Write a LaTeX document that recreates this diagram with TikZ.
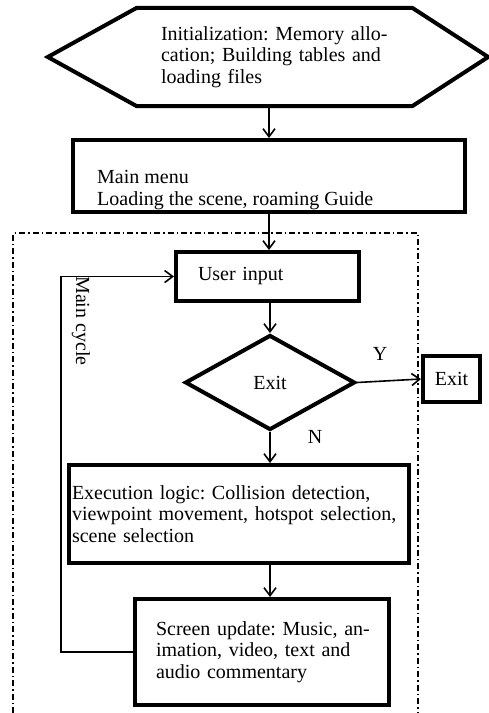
\documentclass[tikz,border=0pt]{standalone}
\usepackage{fontspec}
\setmainfont{Liberation Serif}
\usepackage{tikz}
\usetikzlibrary{shapes.geometric, arrows.meta, positioning, calc}
\frenchspacing

\begin{document}
\begin{tikzpicture}[
    x=1pt, y=-1pt,
    font=\fontsize{20}{21.5}\selectfont,
    box/.style={rectangle, draw, line width=4pt, align=left},
    decision/.style={diamond, draw, line width=4pt, inner sep=0pt},
    arr/.style={-{Straight Barb[length=8pt, width=12pt]}, line width=1.6pt},
    frame/.style={line width=1.5pt, dash pattern=on 6pt off 3pt on 1.5pt off 3pt}
]
    \useasboundingbox (0,0) rectangle (489,713);

    % hexagon: start
    \node[rectangle, minimum width=275, minimum height=98, text width=235, inner xsep=20, align=left] (init) at (274.5,57)
        {\hspace*{4pt}Initialization: Memory allo-\\\hspace*{4pt}cation; Building tables and\\\hspace*{4pt}loading files};
    \draw[line width=4pt, line join=miter]
        (init.north west) -- (init.north east) -- ($(init.east)+(76,0)$)
        -- (init.south east) -- (init.south west) -- ($(init.west)+(-89,0)$) -- cycle;

    \node[box, minimum width=392, minimum height=72] (menu) at (269,176) {};
    \node[anchor=west, align=left, inner sep=0pt] (menutxt) at (97,190) {Main menu\\Loading the scene, roaming Guide};

    % main cycle
    \draw[frame] (13,713) -- (13,233) -- (418,233) -- (418,713);

    \node[box, minimum width=183, minimum height=49, text width=139, inner xsep=22] (user) at (267.5,276.5) {User input};
    \node[decision, minimum width=170, minimum height=95] (dia) at (270,382.5) {Exit};
    \node[box, minimum width=57, minimum height=46, inner sep=0pt, align=center] (stop) at (451.5,379) {Exit};
    \node[box, minimum width=340, minimum height=98, text width=334, inner xsep=3] (exec) at (239,514)
        {Execution logic: Collision detection,\\viewpoint movement, hotspot selection,\\scene selection};
    \node[box, minimum width=254, minimum height=106, text width=220, inner xsep=17] (scr) at (262,652)
        {\hspace*{4pt}Screen update: Music, an-\\\hspace*{4pt}imation, video, text and\\\hspace*{4pt}audio commentary};

    \node (yes) at (380,354) {Y};
    \node (no) at (315,437) {N};
    \node[rotate=-90] (cyc) at (81,321) {Main cycle};
    \coordinate (loop) at (61,0);

    \draw[arr] (init.south -| menu.north) -- (menu.north);
    \draw[arr] (menu.south) -- (menu.south |- user.north);
    \draw[arr] (dia.north |- user.south) -- (dia.north);
    \draw[arr] (dia.east) -- (stop.west);
    \draw[arr] (dia.south) -- (dia.south |- exec.north);
    \draw[arr] (dia.south |- exec.south) -- (dia.south |- scr.north);
    \draw[arr] (scr.west) -- (scr.west -| loop) -- (user.west -| loop) -- (user.west);
\end{tikzpicture}
\end{document}
